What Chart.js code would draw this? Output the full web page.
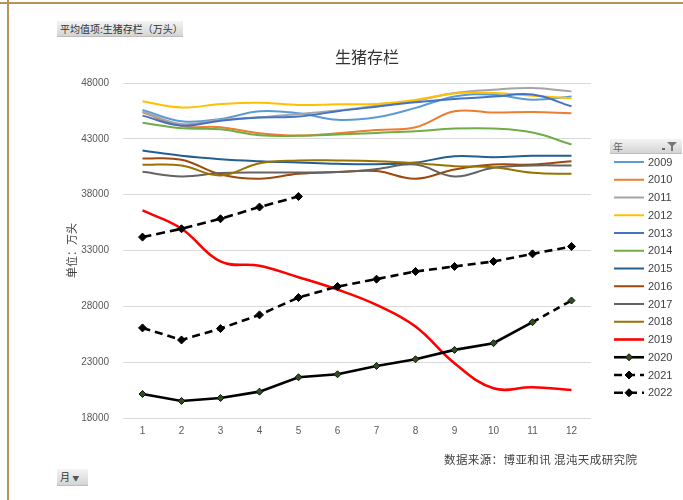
<!DOCTYPE html>
<html>
<head>
<meta charset="utf-8">
<script src="https://cdn.jsdelivr.net/npm/chart.js@4.4.1/dist/chart.umd.min.js"></script>
<style>
  html, body { margin: 0; padding: 0; background: #fff; }
  #wrap { position: relative; width: 683px; height: 500px; overflow: hidden; background: #fff; }
  #c { position: absolute; left: 0; top: 0; }
  .topline { position: absolute; left: 0; top: 2px; width: 683px; height: 2px; background: #b39557; }
  .leftline { position: absolute; left: 7px; top: 0; width: 2px; height: 500px; background: #b39557; }
  .btn { position: absolute; font-family: "Noto Sans CJK SC", sans-serif; font-size: 10px; color: #333;
         background: linear-gradient(#f4f4f4, #d4d4d4); border-bottom: 1px solid #bdbdbd; box-sizing: border-box;
         line-height: 16px; white-space: nowrap; }
  #valbtn { left: 57px; top: 21px; width: 126px; height: 16px; padding-left: 3px; }
  #monbtn { left: 57px; top: 469px; width: 31px; height: 17px; padding-left: 3px; }
  #yearhdr { left: 610px; top: 139px; width: 72px; height: 15px; padding-left: 3px; line-height: 15px; color:#666; }
  #src { position: absolute; left: 444px; top: 451px; font-family: "Noto Sans CJK SC", sans-serif;
         font-size: 11.5px; color: #404040; letter-spacing: 0.4px; white-space: nowrap; }
</style>
</head>
<body>
<div id="wrap">
  <canvas id="c" width="683" height="500"></canvas>
  <div class="topline"></div>
  <div class="leftline"></div>
  <div class="btn" id="valbtn">平均值项:生猪存栏（万头）</div>
  <div class="btn" id="monbtn">月 <span style="font-size:7px;color:#555">▼</span></div>
  <div class="btn" id="yearhdr">年<svg style="position:absolute;right:4px;top:2px" width="16" height="11" viewBox="0 0 16 11"><rect x="0" y="7" width="3" height="2" fill="#666"/><polygon points="5,1 15,1 11,5 11,10 9,10 9,5" fill="#777"/></svg></div>
  <div id="src">数据来源：博亚和讯 混沌天成研究院</div>
</div>
<script>
const chartTitle = '生猪存栏';
const months = ['1','2','3','4','5','6','7','8','9','10','11','12'];
const years = ['2009','2010','2011','2012','2013','2014','2015','2016','2017','2018','2019','2020','2021','2022'];
const yTicks = [18000, 23000, 28000, 33000, 38000, 43000, 48000];

const y2009 = [45590,44570,44780,45465,45290,44700,44930,45770,46800,46955,46510,46800];
const y2010 = [45375,44150,44040,43500,43290,43500,43800,44040,45465,45350,45410,45290];
const y2011 = [45450,44340,44700,44930,45230,45530,45970,46420,47100,47400,47550,47250];
const y2012 = [46360,45800,46120,46240,46040,46090,46130,46480,47070,47100,46860,46630];
const y2013 = [45080,44190,44630,44900,44990,45470,45880,46270,46570,46780,46960,45910];
const y2014 = [44430,43950,43860,43320,43270,43380,43530,43680,43920,43920,43560,42490];
const y2015 = [41950,41480,41180,41000,40880,40760,40730,40880,41450,41360,41480,41480];
const y2016 = [41240,41120,39810,39430,39870,40020,40110,39430,40260,40700,40700,41000];
const y2017 = [40050,39630,39930,39990,39990,40020,40290,40700,39630,40410,40610,40610];
const y2018 = [40680,40610,39720,40820,41060,41060,41000,40820,40550,40460,39960,39870];
const y2019 = [36590,34950,32020,31630,30610,29500,28130,26190,22900,20660,20750,20510];
const y2020 = [20150,19525,19790,20360,21650,21915,22660,23260,24100,24700,26580,28520];
const y2021 = [26070,24990,26010,27235,28790,29770,30435,31120,31570,32020,32700,33360];
const y2022 = [34200,34946,35842,36890,37840];

const seriesValues = [y2009,y2010,y2011,y2012,y2013,y2014,y2015,y2016,y2017,y2018,y2019,y2020,y2021,y2022];
const colors = ['#5b9bd5','#ed7d31','#a5a5a5','#ffc000','#4472c4','#70ad47','#255e91','#9e480e','#636363','#997300','#ff0000','#000000','#000000','#000000'];

const datasets = seriesValues.map((vals, i) => {
  const base = {
    label: years[i],
    data: vals,
    borderColor: colors[i],
    backgroundColor: colors[i],
    borderWidth: 2,
    tension: 0.4,
    pointRadius: 0,
    fill: false,
    order: seriesValues.length - i
  };
  if (i === 10) { base.borderWidth = 2.6; }
  if (i >= 11) {
    base.tension = 0;
    base.borderWidth = 2.6;
    base.pointStyle = 'rectRot';
    base.pointRadius = 4;
    base.pointBorderWidth = 1;
    base.pointBorderColor = '#000';
    base.pointBackgroundColor = '#000';
  }
  if (i === 11) {
    base.pointRadius = 3.5;
    base.pointBackgroundColor = '#2f4f1c';
    base.pointBorderColor = '#111';
    base.segment = { borderDash: ctx => ctx.p0DataIndex === 10 ? [7,5] : undefined };
  }
  if (i === 12) { base.borderDash = [8,5]; }
  if (i === 13) { base.borderDash = [9,5]; }
  return base;
});

const decorPlugin = {
  id: 'decor',
  afterDraw(chart) {
    const ctx = chart.ctx;
    // chart title
    ctx.save();
    ctx.fillStyle = '#333333';
    ctx.font = '16px "Noto Sans CJK SC", sans-serif';
    ctx.textAlign = 'center';
    ctx.textBaseline = 'middle';
    ctx.fillText(chartTitle, 367, 57);
    ctx.restore();
    // legend
    chart.data.datasets.forEach((ds, i) => {
      const y = 162 + i * 17.75;
      ctx.save();
      ctx.strokeStyle = ds.borderColor;
      ctx.lineWidth = ds.borderWidth;
      ctx.setLineDash(ds.borderDash || []);
      ctx.beginPath();
      ctx.moveTo(614, y);
      ctx.lineTo(644, y);
      ctx.stroke();
      ctx.setLineDash([]);
      if (ds.pointRadius > 0) {
        const r = ds.pointRadius;
        ctx.fillStyle = ds.pointBackgroundColor;
        ctx.strokeStyle = ds.pointBorderColor;
        ctx.lineWidth = 1;
        ctx.beginPath();
        ctx.moveTo(629, y - r); ctx.lineTo(629 + r, y); ctx.lineTo(629, y + r); ctx.lineTo(629 - r, y); ctx.closePath();
        ctx.fill(); ctx.stroke();
      }
      ctx.fillStyle = '#404040';
      ctx.font = '11px "Liberation Sans", Arial, sans-serif';
      ctx.textBaseline = 'middle';
      ctx.textAlign = 'left';
      ctx.fillText(ds.label, 648, y + 0.5);
      ctx.restore();
    });
  }
};

new Chart(document.getElementById('c'), {
  type: 'line',
  data: { labels: months, datasets: datasets },
  options: {
    responsive: false,
    animation: false,
    events: [],
    devicePixelRatio: 1,
    layout: { padding: { left: 0, right: 92, top: 83, bottom: 0 } },
    plugins: {
      legend: { display: false },
      tooltip: { enabled: false },
      title: { display: false }
    },
    scales: {
      x: {
        offset: true,
        grid: { display: false, drawTicks: false },
        border: { display: false },
        ticks: { color: '#595959', font: { family: '"Liberation Sans", Arial, sans-serif', size: 10 }, padding: 7, maxRotation: 0 },
        afterFit(scale) { scale.height = 82; }
      },
      y: {
        min: 18000,
        max: 48000,
        afterBuildTicks(scale) { scale.ticks = yTicks.map(v => ({ value: v })); },
        grid: { color: '#d9d9d9', lineWidth: 1, drawTicks: false },
        border: { display: false },
        ticks: { color: '#595959', font: { family: '"Liberation Sans", Arial, sans-serif', size: 10 }, padding: 14,
                 callback: v => String(v) },
        title: {
          display: true,
          text: '单位：万头',
          color: '#404040',
          font: { family: '"Noto Sans CJK SC", sans-serif', size: 11, lineHeight: 1.2 },
          padding: { top: 65, bottom: 0 }
        },
        afterFit(scale) { scale.width = 123; }
      }
    }
  },
  plugins: [decorPlugin]
});
</script>
</body>
</html>
